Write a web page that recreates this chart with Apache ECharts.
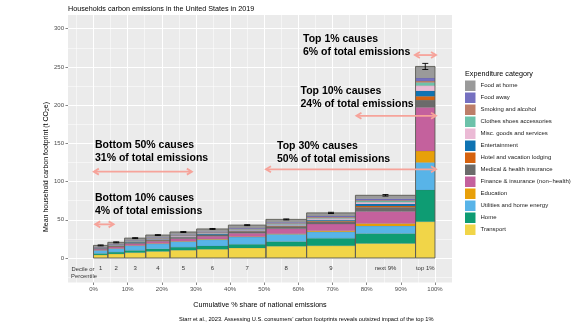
<!DOCTYPE html>
<html><head><meta charset="utf-8">
<script src="https://cdn.jsdelivr.net/npm/echarts@6/dist/echarts.min.js"></script>
<style>html,body{margin:0;padding:0;background:#fff}#c{width:580px;height:326px}</style>
</head><body><div id="c"></div>
<script>
// ---- data ----
const groups = ['1','2','3','4','5','6','7','8','9','next 9%','top 1%'];
const shareEnd = [4.2, 9.1, 15.3, 22.4, 30.2, 39.5, 50.5, 62.4, 76.7, 94.3, 100];
const transport     = [4.0, 5.3, 7.0, 8.6, 10.2, 11.3, 13.0, 15.5, 16.0, 19.0, 47.5];
const home          = [2.0, 2.4, 3.0, 3.5, 4.0, 4.4, 4.9, 6.0, 10.0, 13.0, 41.5];
const utilities     = [4.0, 4.6, 6.1, 6.5, 7.3, 8.4, 9.5, 9.5, 8.3, 10.0, 36.0];
const education     = [0.2, 0.3, 0.4, 0.5, 0.5, 0.6, 0.7, 0.8, 1.3, 3.0, 15.0];
const finance       = [1.3, 1.8, 2.3, 2.8, 3.2, 3.6, 4.3, 6.6, 8.8, 16.0, 57.0];
const medical       = [0.8, 1.0, 1.2, 1.4, 1.5, 1.7, 1.9, 2.3, 3.3, 5.5, 9.6];
const hotel         = [0.2, 0.3, 0.3, 0.4, 0.4, 0.5, 0.6, 0.7, 0.9, 1.5, 5.0];
const entertainment = [0.4, 0.5, 0.6, 0.7, 0.8, 0.9, 1.0, 1.2, 1.5, 2.5, 7.0];
const misc          = [0.5, 0.6, 0.7, 0.8, 0.9, 1.0, 1.1, 1.3, 1.6, 2.5, 7.0];
const clothes       = [0.3, 0.4, 0.5, 0.5, 0.6, 0.6, 0.7, 0.8, 1.0, 1.5, 4.0];
const smoking       = [0.3, 0.4, 0.4, 0.5, 0.5, 0.6, 0.6, 0.7, 0.8, 1.0, 2.0];
const foodAway      = [0.5, 0.6, 0.7, 0.8, 0.9, 1.0, 1.1, 1.3, 1.5, 2.0, 4.0];
const foodHome      = [2.0, 2.3, 2.8, 3.0, 3.2, 3.4, 3.6, 3.8, 4.0, 4.5, 15.0];
const errorBar      = [0.6, 0.6, 0.6, 0.6, 0.6, 0.6, 0.6, 0.6, 0.8, 1.0, 4.0];
const xTicks = [0,10,20,30,40,50,60,70,80,90,100];
const yTicks = [0,50,100,150,200,250,300];
// annotation arrows (x from, x to, y) in data units
const arrowFrom = [0.5, 0.1, 50.5, 77.0, 94.1];
const arrowTo   = [5.9, 28.8, 100.3, 100.3, 100.3];
const arrowY    = [44, 113, 116, 186, 265.5];

const cats = [
  ['Transport', transport, '#f1d548'],
  ['Home', home, '#0e9c73'],
  ['Utilities and home energy', utilities, '#58b4e8'],
  ['Education', education, '#e8a00a'],
  ['Finance & insurance (non\u2212health)', finance, '#c4619d'],
  ['Medical & health insurance', medical, '#6b6b6b'],
  ['Hotel and vacation lodging', hotel, '#d5620f'],
  ['Entertainment', entertainment, '#0f73b2'],
  ['Misc. goods and services', misc, '#ebbad5'],
  ['Clothes shoes accessories', clothes, '#6dc2aa'],
  ['Smoking and alcohol', smoking, '#bd7e69'],
  ['Food away', foodAway, '#7570c0'],
  ['Food at home', foodHome, '#9a9a9a']
];

const FONT = '"Liberation Sans", Arial, sans-serif';
const bounds = shareEnd.map((e, i) => [i === 0 ? 0 : shareEnd[i - 1], e]);
const base = groups.map(() => 0);

function segRender(params, api) {
  const p0 = api.coord([api.value(0), api.value(3)]);
  const p1 = api.coord([api.value(1), api.value(2)]);
  return {type: 'rect', shape: {x: p0[0], y: p0[1], width: p1[0] - p0[0], height: p1[1] - p0[1]},
    style: {fill: api.visual('color'), stroke: 'rgba(90,90,90,0.35)', lineWidth: 0.3}};
}

const series = [];
cats.forEach(([name, vals, color]) => {
  const data = vals.map((v, i) => {
    const d = [bounds[i][0], bounds[i][1], base[i], base[i] + v];
    base[i] += v;
    return d;
  });
  series.push({type: 'custom', name, xAxisIndex: 0, yAxisIndex: 0, itemStyle: {color},
    renderItem: segRender, data, encode: {x: [0, 1], y: [2, 3]}, z: 2, silent: true});
});
const totals = base.slice();

// bar outlines
series.push({type: 'custom', name: 'outline', xAxisIndex: 0, yAxisIndex: 0, z: 3, silent: true,
  data: bounds.map((b, i) => [b[0], b[1], 0, totals[i]]),
  encode: {x: [0, 1], y: [2, 3]},
  renderItem(params, api) {
    const p0 = api.coord([api.value(0), api.value(3)]);
    const p1 = api.coord([api.value(1), api.value(2)]);
    return {type: 'rect', shape: {x: p0[0], y: p0[1], width: p1[0] - p0[0], height: p1[1] - p0[1]},
      style: {fill: 'none', stroke: '#5e5e57', lineWidth: 0.9}};
  }});

// error bars
series.push({type: 'custom', name: 'err', xAxisIndex: 0, yAxisIndex: 0, z: 4, silent: true,
  data: bounds.map((b, i) => [(b[0] + b[1]) / 2, totals[i], errorBar[i]]),
  encode: {x: 0, y: 1},
  renderItem(params, api) {
    const x = api.value(0), y = api.value(1), e = api.value(2);
    const top = api.coord([x, y + e]), bot = api.coord([x, y - e]);
    const w = 3;
    const st = {stroke: '#000', lineWidth: 0.9};
    return {type: 'group', children: [
      {type: 'line', shape: {x1: top[0] - w, y1: top[1], x2: top[0] + w, y2: top[1]}, style: st},
      {type: 'line', shape: {x1: bot[0] - w, y1: bot[1], x2: bot[0] + w, y2: bot[1]}, style: st},
      {type: 'line', shape: {x1: top[0], y1: top[1], x2: bot[0], y2: bot[1]}, style: st}
    ]};
  }});

// group labels under bars
series.push({type: 'custom', name: 'glabels', xAxisIndex: 0, yAxisIndex: 0, z: 4, silent: true,
  data: bounds.map(b => [(b[0] + b[1]) / 2, -14]),
  encode: {x: 0, y: 1},
  renderItem(params, api) {
    const p = api.coord([api.value(0), api.value(1)]);
    return {type: 'text', x: p[0], y: p[1], style: {text: groups[params.dataIndex], textAlign: 'center', align: 'center',
      textVerticalAlign: 'middle', verticalAlign: 'middle', font: '6px ' + FONT, fill: '#333'}};
  }});

// annotation arrows
series.push({type: 'custom', name: 'arrows', xAxisIndex: 0, yAxisIndex: 0, z: 5, silent: true,
  data: arrowFrom.map((a, i) => [a, arrowTo[i], arrowY[i]]),
  encode: {x: [0, 1], y: 2},
  renderItem(params, api) {
    const p0 = api.coord([api.value(0), api.value(2)]);
    const p1 = api.coord([api.value(1), api.value(2)]);
    const h = 5, hw = 3;
    const st = {stroke: '#f6a39a', lineWidth: 1.8, fill: 'none', lineJoin: 'miter'};
    return {type: 'group', children: [
      {type: 'line', shape: {x1: p0[0] + 0.5, y1: p0[1], x2: p1[0] - 0.5, y2: p1[1]}, style: st},
      {type: 'polyline', shape: {points: [[p0[0] + h, p0[1] - hw], [p0[0], p0[1]], [p0[0] + h, p0[1] + hw]]}, style: st},
      {type: 'polyline', shape: {points: [[p1[0] - h, p1[1] - hw], [p1[0], p1[1]], [p1[0] - h, p1[1] + hw]]}, style: st}
    ]};
  }});

function txt(text, x, y, font, extra) {
  return Object.assign({type: 'text', x, y, silent: true, z: 10,
    style: {text, font, fill: '#000', textAlign: 'left', align: 'left', textVerticalAlign: 'middle', verticalAlign: 'middle'}}, extra || {});
}
const BOLD = 'bold 10.5px ' + FONT;
const graphics = [
  txt('Households carbon emissions in the United States in 2019', 68, 9.5, '7.2px ' + FONT),
  txt('Expenditure category', 465, 74, '7.2px ' + FONT),
  txt('Top 1% causes', 303, 39.5, BOLD),
  txt('6% of total emissions', 303, 52.5, BOLD),
  txt('Top 10% causes', 300.5, 91, BOLD),
  txt('24% of total emissions', 300.5, 104, BOLD),
  txt('Top 30% causes', 277, 146, BOLD),
  txt('50% of total emissions', 277, 159, BOLD),
  txt('Bottom 50% causes', 95, 145, BOLD),
  txt('31% of total emissions', 95, 158, BOLD),
  txt('Bottom 10% causes', 95, 198, BOLD),
  txt('4% of total emissions', 95, 211, BOLD),
  {type: 'text', x: 83, y: 269, silent: true, z: 10, style: {text: 'Decile or', font: '5.8px ' + FONT, fill: '#333', textAlign: 'center', align: 'center', textVerticalAlign: 'middle', verticalAlign: 'middle'}},
  {type: 'text', x: 84, y: 276.5, silent: true, z: 10, style: {text: 'Percentile', font: '5.8px ' + FONT, fill: '#333', textAlign: 'center', align: 'center', textVerticalAlign: 'middle', verticalAlign: 'middle'}},
  {type: 'text', x: 260, y: 305, silent: true, z: 10, style: {text: 'Cumulative % share of national emissions', font: '7.2px ' + FONT, fill: '#000', textAlign: 'center', align: 'center', textVerticalAlign: 'middle', verticalAlign: 'middle'}},
  txt('Starr et al., 2023. Assessing U.S. consumers\u2019 carbon footprints reveals outsized impact of the top 1%', 179, 319, '5.7px ' + FONT),
  {type: 'text', x: 46, y: 167, rotation: Math.PI / 2, silent: true, z: 10,
    style: {text: 'Mean household carbon footprint (t CO{s|2}e)', font: '7px ' + FONT, fill: '#000', textAlign: 'center', align: 'center', textVerticalAlign: 'middle', verticalAlign: 'middle',
      rich: {s: {fontSize: 5, fontFamily: FONT, verticalAlign: 'bottom', padding: [3, 0, 0, 0], fill: '#000'}}}}
];

const axisGray = '#4d4d4d';
const option = {
  animation: false,
  backgroundColor: '#ffffff',
  grid: [
    {left: 59.35, right: 110.85, top: 9.59, bottom: 29.78, show: false},
    {left: 68, right: 128, top: 15, bottom: 43.5, show: true, backgroundColor: '#ebebeb', borderWidth: 0, z: -1}
  ],
  xAxis: [
    {type: 'value', gridIndex: 0, min: -10, max: 110, interval: 10, position: 'bottom', offset: -13.72,
      axisLine: {show: false, onZero: false},
      axisTick: {show: true, length: 2.5, customValues: xTicks, lineStyle: {color: '#333', width: 0.6}},
      axisLabel: {show: true, customValues: xTicks, formatter: v => v + '%', fontSize: 6, color: axisGray, margin: 3.5, fontFamily: FONT},
      splitLine: {show: true, lineStyle: {color: '#ffffff', width: 1}}},
    {type: 'value', gridIndex: 0, min: -10, max: 110, interval: 5, position: 'top',
      axisLine: {show: false, onZero: false}, axisTick: {show: false}, axisLabel: {show: false},
      splitLine: {show: true, lineStyle: {color: '#ffffff', width: 0.5}}},
    {type: 'value', gridIndex: 1, min: 0, max: 1, show: false, axisLine: {onZero: false}}
  ],
  yAxis: [
    {type: 'value', gridIndex: 0, min: -50, max: 325, interval: 50, position: 'left', offset: -8.65,
      axisLine: {show: false, onZero: false},
      axisTick: {show: true, length: 2.5, customValues: yTicks, lineStyle: {color: '#333', width: 0.6}},
      axisLabel: {show: true, customValues: yTicks, fontSize: 6, color: axisGray, margin: 4, fontFamily: FONT},
      splitLine: {show: true, lineStyle: {color: '#ffffff', width: 1}}},
    {type: 'value', gridIndex: 0, min: -50, max: 325, interval: 25, position: 'right',
      axisLine: {show: false, onZero: false}, axisTick: {show: false}, axisLabel: {show: false},
      splitLine: {show: true, lineStyle: {color: '#ffffff', width: 0.5}}},
    {type: 'value', gridIndex: 1, min: 0, max: 1, show: false, axisLine: {onZero: false}}
  ],
  legend: {
    orient: 'vertical', left: 465, top: 80.5, padding: 0, itemWidth: 10.5, itemHeight: 10.5, itemGap: 1.5,
    icon: 'rect', selectedMode: false,
    data: cats.map(c => c[0]).reverse(),
    textStyle: {fontSize: 6, color: '#222', fontFamily: FONT}
  },
  graphic: graphics,
  series
};
const chart = echarts.init(document.getElementById('c'), null, {renderer: 'canvas'});
chart.setOption(option);
</script></body></html>
